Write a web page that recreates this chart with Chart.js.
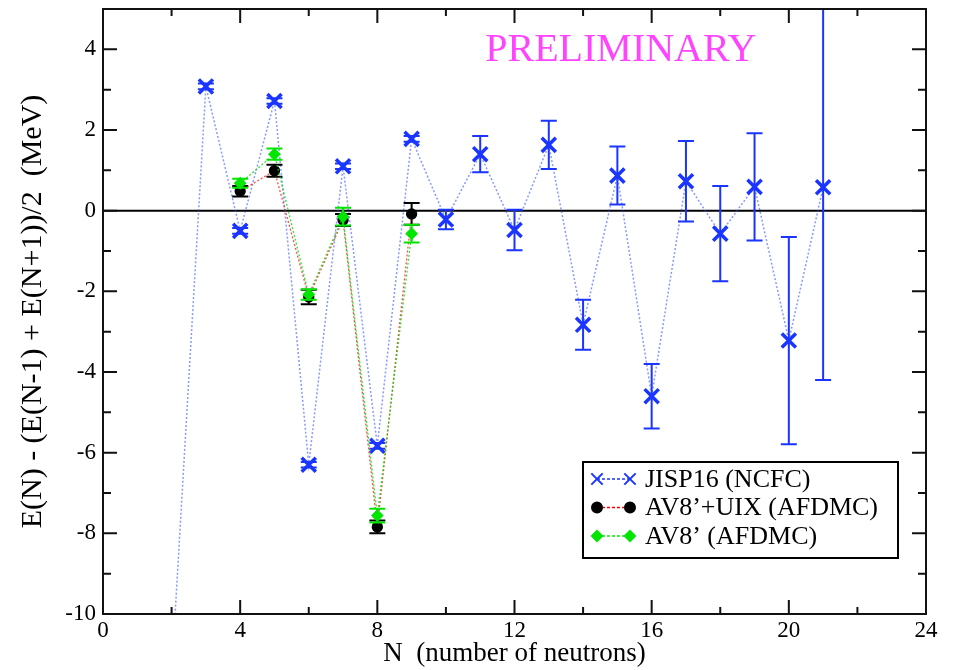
<!DOCTYPE html>
<html>
<head>
<meta charset="utf-8">
<script src="https://cdn.jsdelivr.net/npm/chart.js@4.4.0/dist/chart.umd.min.js"></script>
<style>
  html, body { margin: 0; padding: 0; background: #fff; }
</style>
</head>
<body>
<canvas id="gapChart" width="955" height="670"></canvas>
<script>
// neutron number N and the gap E(N) - (E(N-1)+E(N+1))/2 in MeV
const nJisp = [2, 3, 4, 5, 6, 7, 8, 9, 10, 11, 12, 13, 14, 15, 16, 17, 18, 19, 20, 21];
const eJisp = [-11.5, 3.08, -0.5, 2.72, -6.3, 1.1, -5.83, 1.78, -0.22, 1.4, -0.48, 1.63, -2.83, 0.87, -4.6, 0.73, -0.57, 0.59, -3.22, 0.58];
const errJisp = [0, 0.07, 0.07, 0.07, 0.07, 0.07, 0.07, 0.07, 0.24, 0.45, 0.5, 0.6, 0.62, 0.72, 0.8, 1.0, 1.18, 1.33, 2.57, 4.78];

const nAfdmc = [4, 5, 6, 7, 8, 9];
const eUix = [0.48, 0.99, -2.14, -0.23, -7.84, -0.08];
const errUix = [0.13, 0.15, 0.18, 0.15, 0.16, 0.27];
const eAv8 = [0.68, 1.4, -2.08, -0.15, -7.56, -0.57];
const errAv8 = [0.11, 0.14, 0.13, 0.22, 0.17, 0.22];

const xTicks = [0, 4, 8, 12, 16, 20, 24];
const yTicks = [-10, -8, -6, -4, -2, 0, 2, 4];

const serif = 'Liberation Serif';
const blue = '#1a35ff';
const green = '#00e600';

function points(xs, ys) {
  return xs.map((v, i) => ({ x: v, y: ys[i] }));
}

const errorBars = {
  id: 'errorBars',
  beforeDatasetDraw(chart, args) {
    const ds = chart.data.datasets[args.index];
    if (!ds.errors) return;
    const { ctx, chartArea, scales: { x, y } } = chart;
    ctx.save();
    ctx.beginPath();
    ctx.rect(chartArea.left, chartArea.top, chartArea.width, chartArea.height);
    ctx.clip();
    ctx.strokeStyle = ds.errColor;
    ctx.lineWidth = 2;
    ds.data.forEach((p, i) => {
      const e = ds.errors[i];
      if (!e) return;
      const px = x.getPixelForValue(p.x);
      const top = y.getPixelForValue(p.y + e);
      const bot = y.getPixelForValue(p.y - e);
      ctx.beginPath();
      ctx.moveTo(px, top); ctx.lineTo(px, bot);
      ctx.moveTo(px - 8, top); ctx.lineTo(px + 8, top);
      ctx.moveTo(px - 8, bot); ctx.lineTo(px + 8, bot);
      ctx.stroke();
    });
    ctx.restore();
  }
};

const frame = {
  id: 'frame',
  beforeDatasetsDraw(chart) {
    const { ctx, chartArea: a, scales: { y } } = chart;
    const y0 = y.getPixelForValue(0);
    ctx.save();
    ctx.strokeStyle = '#000';
    ctx.lineWidth = 2;
    ctx.beginPath();
    ctx.moveTo(a.left, y0);
    ctx.lineTo(a.right, y0);
    ctx.stroke();
    ctx.restore();
  },
  afterDatasetsDraw(chart) {
    const { ctx, chartArea: a, scales: { x, y } } = chart;
    ctx.save();
    ctx.strokeStyle = '#111';
    ctx.lineWidth = 2;
    ctx.strokeRect(a.left, a.top, a.width, a.height);
    ctx.beginPath();
    for (let v = 0; v <= 24; v += 2) {
      const px = x.getPixelForValue(v);
      const len = v % 4 === 0 ? 14 : 7;
      ctx.moveTo(px, a.bottom); ctx.lineTo(px, a.bottom - len);
      ctx.moveTo(px, a.top); ctx.lineTo(px, a.top + len);
    }
    for (let v = -10; v <= 5; v += 1) {
      const py = y.getPixelForValue(v);
      const len = v % 2 === 0 ? 14 : 8;
      ctx.moveTo(a.left, py); ctx.lineTo(a.left + len, py);
      ctx.moveTo(a.right, py); ctx.lineTo(a.right - len, py);
    }
    ctx.stroke();

    // PRELIMINARY stamp
    ctx.fillStyle = '#ff44ff';
    ctx.font = '40px "' + serif + '"';
    ctx.textAlign = 'center';
    ctx.textBaseline = 'alphabetic';
    ctx.fillText('PRELIMINARY', x.getPixelForValue(15.1), a.top + 52);

    // legend
    const bx = a.right - 343, by = a.bottom - 152, bw = 315, bh = 96;
    ctx.fillStyle = '#fff';
    ctx.fillRect(bx, by, bw, bh);
    ctx.strokeStyle = '#000';
    ctx.lineWidth = 2;
    ctx.strokeRect(bx, by, bw, bh);
    const rows = [
      { text: 'JISP16 (NCFC)', line: blue, style: 'crossRot', color: blue },
      { text: 'AV8\u2019+UIX (AFDMC)', line: '#ff0000', style: 'circle', color: '#000' },
      { text: 'AV8\u2019 (AFDMC)', line: green, style: 'rectRot', color: green }
    ];
    ctx.font = '26px "' + serif + '"';
    ctx.textAlign = 'left';
    ctx.textBaseline = 'middle';
    rows.forEach((r, i) => {
      const ry = by + 17 + i * 28.5;
      const m1 = bx + 14, m2 = bx + 47;
      ctx.save();
      ctx.strokeStyle = r.line;
      ctx.lineWidth = 1.5;
      ctx.setLineDash([3, 2]);
      ctx.beginPath();
      ctx.moveTo(m1, ry); ctx.lineTo(m2, ry);
      ctx.stroke();
      ctx.restore();
      ctx.fillStyle = r.color;
      ctx.strokeStyle = r.color;
      [m1, m2].forEach(mx => {
        Chart.helpers.drawPoint(ctx, {
          pointStyle: r.style,
          radius: r.style === 'crossRot' ? 8 : 5,
          borderWidth: r.style === 'crossRot' ? 3 : 1
        }, mx, ry);
      });
      ctx.fillStyle = '#000';
      ctx.fillText(r.text, bx + 62, ry + 1);
    });
    ctx.restore();
  }
};

const ctx = document.getElementById('gapChart').getContext('2d');

const chart = new Chart(ctx, {
  type: 'scatter',
  data: {
    datasets: [
      {
        label: 'JISP16 (NCFC)',
        data: points(nJisp, eJisp),
        errors: errJisp,
        errColor: blue,
        showLine: true,
        borderColor: 'rgba(40, 70, 255, 0.55)',
        borderWidth: 1.5,
        borderDash: [2, 2],
        pointStyle: 'crossRot',
        pointRadius: 10,
        pointBorderWidth: 3.5,
        pointBorderColor: blue,
        pointBackgroundColor: blue,
        order: 3
      },
      {
        label: 'AV8\u2019+UIX (AFDMC)',
        data: points(nAfdmc, eUix),
        errors: errUix,
        errColor: '#000',
        showLine: true,
        borderColor: 'rgba(255, 0, 0, 0.7)',
        borderWidth: 1.3,
        borderDash: [2, 2],
        pointStyle: 'circle',
        pointRadius: 5,
        pointBorderColor: '#000',
        pointBackgroundColor: '#000',
        order: 2
      },
      {
        label: 'AV8\u2019 (AFDMC)',
        data: points(nAfdmc, eAv8),
        errors: errAv8,
        errColor: green,
        showLine: true,
        borderColor: 'rgba(0, 220, 0, 0.8)',
        borderWidth: 1.3,
        borderDash: [2, 2],
        pointStyle: 'rectRot',
        pointRadius: 5.5,
        pointBorderColor: green,
        pointBackgroundColor: green,
        order: 1
      }
    ]
  },
  options: {
    responsive: false,
    animation: false,
    layout: { autoPadding: false, padding: { top: 9, right: 29, left: 0, bottom: 0 } },
    plugins: {
      legend: { display: false },
      tooltip: { enabled: false }
    },
    scales: {
      x: {
        type: 'linear',
        min: 0,
        max: 24,
        afterBuildTicks: s => { s.ticks = xTicks.map(v => ({ value: v })); },
        ticks: { font: { family: serif, size: 23 }, color: '#000', padding: 3, maxRotation: 0 },
        grid: { display: false, drawTicks: false },
        border: { display: false },
        title: {
          display: true,
          text: 'N  (number of neutrons)',
          font: { family: serif, size: 27 },
          color: '#000',
          padding: { top: 0, bottom: 0 }
        },
        afterFit: s => {
          s.height = 56;
          s.paddingLeft = 0;
          s.paddingRight = 0;
        }
      },
      y: {
        type: 'linear',
        min: -10,
        max: 5,
        afterBuildTicks: s => { s.ticks = yTicks.map(v => ({ value: v })); },
        ticks: { font: { family: serif, size: 23, lineHeight: 0.7 }, color: '#000', padding: 7 },
        grid: { display: false, drawTicks: false },
        border: { display: false },
        title: {
          display: true,
          text: 'E(N) - (E(N-1) + E(N+1))/2  (MeV)',
          font: { family: serif, size: 30 },
          color: '#000',
          padding: { top: 15, bottom: 0 }
        },
        afterFit: s => {
          s.width = 103;
          s.paddingTop = 0;
          s.paddingBottom = 0;
        }
      }
    }
  },
  plugins: [errorBars, frame]
});
</script>
</body>
</html>
